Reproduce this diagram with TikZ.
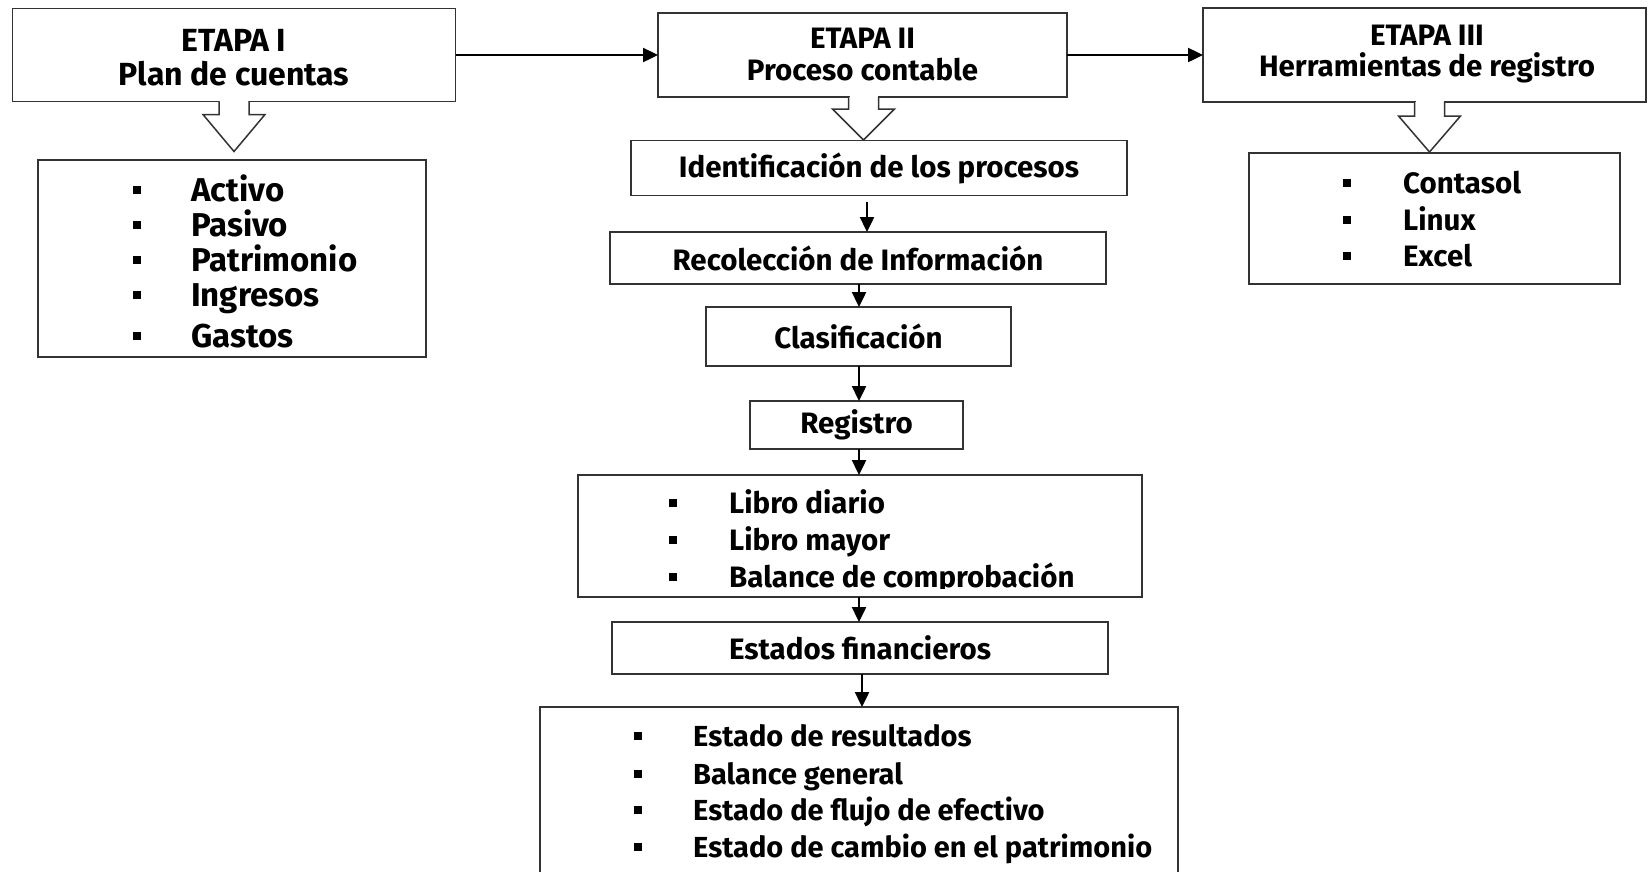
\documentclass[tikz,border=0pt]{standalone}
\usepackage{fontspec}
\setmainfont{Fira Sans}
\usetikzlibrary{arrows.meta,calc}
\newcommand\hollowarr[4]{%
  \fill[white] ($(#1.south)+(#2-14,-1.5)$) rectangle ($(#1.south)+(#2+14,#3)$);
  \draw[hollow] ($(#1.south)+(#2-15,0)$) -- ($(#1.south)+(#2-15,#3)$) -- ($(#1.south)+(#2-31,#3)$)
     -- ($(#1.south)+(#2,#4)$) -- ($(#1.south)+(#2+31,#3)$) -- ($(#1.south)+(#2+15,#3)$) -- ($(#1.south)+(#2+15,0)$);
}
\begin{document}
\begin{tikzpicture}[x=1pt,y=-1pt,
  box/.style={draw=black!80,line width=1.5pt,fill=white,inner sep=0pt,outer sep=0pt,align=center,
    font=\bfseries\fontsize{29.5}{32}\selectfont},
  title/.style={inner sep=0pt,align=center,font=\bfseries\fontsize{29.5}{31}\selectfont},
  bigtitle/.style={title,font=\bfseries\fontsize{32}{34}\selectfont},
  txt/.style={inner sep=0pt,anchor=base west,font=\bfseries\fontsize{29.5}{30}\selectfont},
  bigtxt/.style={txt,font=\bfseries\fontsize{33}{30}\selectfont},
  smalltxt/.style={txt,font=\bfseries\fontsize{29}{30}\selectfont},
  blt/.style={fill=black,minimum size=8pt,inner sep=0pt},
  arr/.style={line width=2.4pt,-{Triangle[length=15pt,width=14pt]}},
  hollow/.style={draw=black!80,line width=1.5pt,fill=white,line join=miter}]
\useasboundingbox (0,0) rectangle (1648,871);
\fill[white] (0,0) rectangle (1648,871);

% Stage boxes
\node[box,minimum width=443,minimum height=93] (e1) at (234,55) {};
\node[bigtitle] (e1t) at (234,57.5) {ETAPA I\\Plan de cuentas};
\node[box,minimum width=409,minimum height=84] (e2) at (862.5,55) {ETAPA II\\Proceso contable};
\node[box,minimum width=443,minimum height=94] (e3) at (1424.5,55) {};
\node[title] (e3t) at (1427,54.5) {ETAPA III\\Herramientas de registro};

\draw[arr] (e1.east) -- (e2.west);
\draw[arr] (e2.east) -- (e3.west |- e2.east);

% Lists
\node[box,minimum width=388,minimum height=197] (l1) at (232,258.5) {};
\foreach \t/\y in {Activo/190,Pasivo/225,Patrimonio/260,Ingresos/295,Gastos/336}{
  \node[blt] at (137,\y) {};
  \node[bigtxt] at (191,\y+11) {\t};
}
\node[box,minimum width=371,minimum height=131] (l3) at (1434.5,218.5) {};
\foreach \t/\y in {Contasol/183,Linux/220,Excel/256}{
  \node[blt] at (1347,\y) {};
  \node[txt] at (1403,\y+10) {\t};
}

% Process chain
\node[box,minimum width=496,minimum height=55] (id) at (879,168) {Identificación de los procesos};
\node[box,minimum width=496,minimum height=52] (rec) at (858,258) {Recolección de Información};
\node[box,minimum width=305,minimum height=59] (cla) at (858.5,336.5) {Clasificación};
\node[box,minimum width=213,minimum height=48] (reg) at (856.5,425) {Registro};
\node[box,minimum width=564,minimum height=122] (lib) at (860,536) {};
\begin{scope}
  \clip (lib.north west) rectangle (lib.east |- 0,588);
  \foreach \t/\y in {Libro diario/503,Libro mayor/540,Balance de comprobación/577}{
    \node[blt] at (673,\y) {};
    \node[txt] at (729,\y+10) {\t};
  }
\end{scope}
\node[box,minimum width=496,minimum height=52] (est) at (860,648) {Estados financieros};
\node[box,minimum width=638,minimum height=200] (fin) at (859,807) {};
\foreach \t/\y in {Estado de resultados/736,Balance general/774,Estado de flujo de efectivo/810,Estado de cambio en el patrimonio/847}{
  \node[blt] at (638,\y) {};
  \node[smalltxt] at (693,\y+10) {\t};
}

\coordinate (c0) at (867,0);
\coordinate (c1) at (859,0);
\coordinate (c2) at (862,0);
\draw[arr] ([yshift=-6pt]id.south -| c0) -- (rec.north -| c0);
\draw[arr] (rec.south -| c1) -- (cla.north -| c1);
\draw[arr] (cla.south -| c1) -- (reg.north -| c1);
\draw[arr] (reg.south -| c1) -- (lib.north -| c1);
\draw[arr] (lib.south -| c1) -- (est.north -| c1);
\draw[arr] (est.south -| c2) -- (fin.north -| c2);

% Hollow arrows
\hollowarr{e1}{0}{13}{50}
\hollowarr{e2}{1}{12}{43}
\hollowarr{e3}{5}{14}{50}
\end{tikzpicture}
\end{document}
